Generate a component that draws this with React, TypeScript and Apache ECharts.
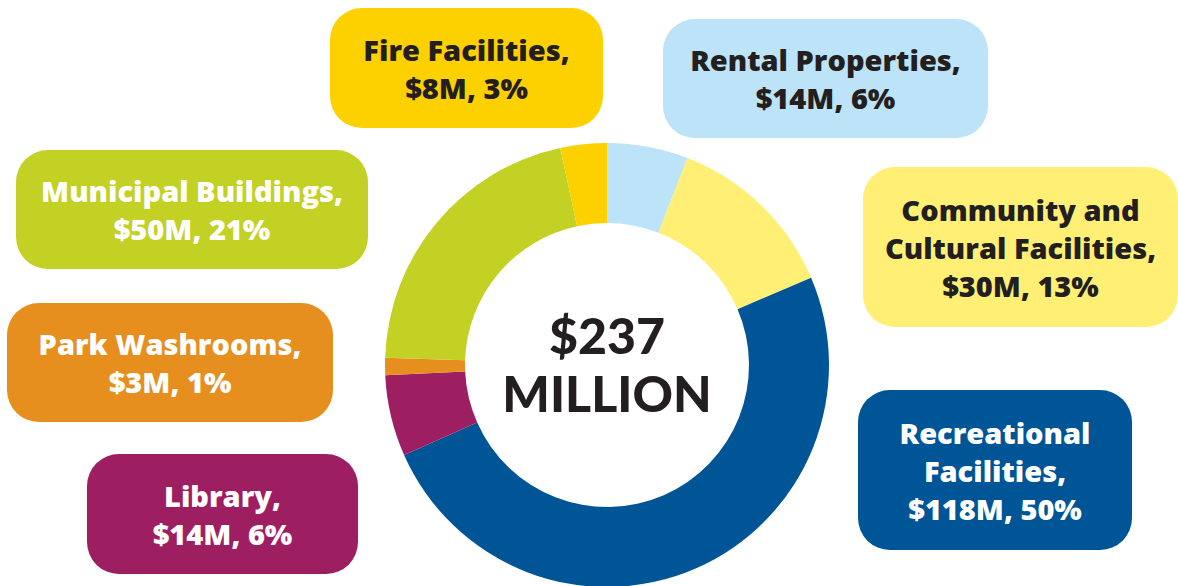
import React, { useEffect, useRef } from "react";
import * as echarts from "echarts";

const categories = [
  "Rental Properties",
  "Community and Cultural Facilities",
  "Recreational Facilities",
  "Library",
  "Park Washrooms",
  "Municipal Buildings",
  "Fire Facilities",
];
const valuesM = [14, 30, 118, 14, 3, 50, 8];
const percents = [6, 13, 50, 6, 1, 21, 3];
const labelNames = [
  "Rental Properties,",
  "Community and\nCultural Facilities,",
  "Recreational\nFacilities,",
  "Library,",
  "Park Washrooms,",
  "Municipal Buildings,",
  "Fire Facilities,",
];
const colors = ["#BCE3F7", "#FFF075", "#005596", "#9E1F61", "#E68F1E", "#C3D024", "#FDD000"];
const textColors = ["#231F20", "#231F20", "#FFFFFF", "#FFFFFF", "#FFFFFF", "#FFFFFF", "#231F20"];
// box layout [x, y, w, h]
const boxes = [
  [663, 19, 325, 119],
  [863, 167, 315, 160],
  [858, 390, 274, 160],
  [87, 454, 271, 120],
  [7, 303, 326, 119],
  [16, 150, 352, 119],
  [330, 8, 273, 120],
];

export default function App() {
  const ref = useRef<HTMLDivElement>(null);
  useEffect(() => {
    document.body.style.margin = "0";
    const chart = echarts.init(ref.current!, null, { renderer: "svg" });
    const labelFont = "'Open Sans', 'Noto Sans', sans-serif";
    const centerFont = "Lato, 'Noto Sans', sans-serif";
    const total = valuesM.reduce((a, b) => a + b, 0);
    const graphics: any[] = boxes.map((b, i) => ({
      type: "group",
      children: [
        {
          type: "rect",
          shape: { x: b[0], y: b[1], width: b[2], height: b[3], r: 32 },
          style: { fill: colors[i] },
        },
        {
          type: "text",
          x: b[0] + b[2] / 2,
          y: b[1] + b[3] / 2,
          style: {
            text: `${labelNames[i]}\n$${valuesM[i]}M, ${percents[i]}%`,
            fill: textColors[i],
            fontFamily: labelFont,
            fontWeight: 800,
            fontSize: 29,
            lineHeight: 38,
            align: "center",
            verticalAlign: "middle",
          },
        },
      ],
    }));
    graphics.push({
      type: "text",
      x: 607,
      y: 364,
      style: {
        text: `$${total}\nMILLION`,
        fill: "#231F20",
        fontFamily: centerFont,
        fontWeight: 900,
        fontSize: 50,
        lineHeight: 58,
        align: "center",
        verticalAlign: "middle",
      },
    });
    chart.setOption({
      animation: false,
      backgroundColor: "#FFFFFF",
      series: [
        {
          type: "pie",
          center: [607, 365],
          radius: [142, 222],
          startAngle: 90,
          clockwise: true,
          label: { show: false },
          labelLine: { show: false },
          silent: true,
          itemStyle: { borderWidth: 0 },
          data: categories.map((c, i) => ({
            name: c,
            value: valuesM[i],
            itemStyle: { color: colors[i] },
          })),
        },
      ],
      graphic: graphics,
    });
    return () => chart.dispose();
  }, []);
  return <div ref={ref} style={{ width: 1178, height: 586 }} />;
}
